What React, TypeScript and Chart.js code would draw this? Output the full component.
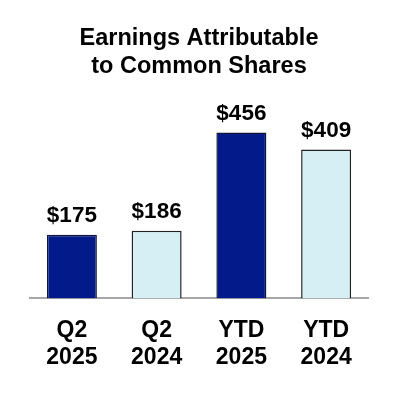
import React, { useEffect, useRef } from "react";
import { Chart, registerables } from "chart.js";

Chart.register(...registerables);

const categories: string[][] = [["Q2", "2025"], ["Q2", "2024"], ["YTD", "2025"], ["YTD", "2024"]];
const earnings: number[] = [175, 186, 456, 409];
const valueLabels: string[] = ["$175", "$186", "$456", "$409"];
const titleLines: string[] = ["Earnings Attributable", "to Common Shares"];

const NAVY = "#021a8a";
const LIGHT = "#d6eff4";
const FONT = "'Liberation Sans', Arial, sans-serif";

const valueLabelPlugin = {
  id: "valueLabels",
  afterDatasetsDraw(chart: any) {
    const ctx = chart.ctx;
    const meta = chart.getDatasetMeta(0);
    ctx.save();
    ctx.font = `bold 22.5px ${FONT}`;
    ctx.fillStyle = "#000";
    ctx.textAlign = "center";
    ctx.textBaseline = "alphabetic";
    meta.data.forEach((bar: any, i: number) => {
      ctx.fillText(valueLabels[i], bar.x, bar.y - 12.5);
    });
    ctx.restore();
  },
};

export default function App() {
  const ref = useRef<HTMLCanvasElement>(null);
  useEffect(() => {
    if (!ref.current) return;
    const chart = new Chart(ref.current, {
      type: "bar",
      data: {
        labels: categories,
        datasets: [
          {
            data: earnings,
            backgroundColor: [NAVY, LIGHT, NAVY, LIGHT],
            borderColor: ["#10163a", "#222222", "#10163a", "#222222"],
            borderWidth: 1.5,
            categoryPercentage: 1,
            barPercentage: 0.59,
          },
        ],
      },
      options: {
        responsive: false,
        animation: false,
        layout: { padding: { left: 29.5, right: 29.5, top: 0, bottom: 10.5 } },
        plugins: {
          legend: { display: false },
          tooltip: { enabled: false },
          title: {
            display: true,
            text: titleLines,
            color: "#000",
            font: { family: FONT, size: 23.5, weight: "bold", lineHeight: 1.213 },
            padding: { top: 24.25, bottom: 18.75 },
          },
        },
        scales: {
          x: {
            grid: { display: false, drawTicks: false },
            border: { display: true, color: "#a6a6a6", width: 2 },
            ticks: {
              color: "#000",
              padding: 18.5,
              font: { family: FONT, size: 23, weight: "bold", lineHeight: 1.174 },
              maxRotation: 0,
              autoSkip: false,
            },
          },
          y: {
            display: false,
            min: 0,
            max: 545,
          },
        },
      },
      plugins: [valueLabelPlugin],
    });
    return () => chart.destroy();
  }, []);
  return (
    <div style={{ position: "absolute", left: 0, top: 0, width: 398, height: 400, background: "#fff" }}>
      <canvas ref={ref} width={398} height={400} />
    </div>
  );
}
